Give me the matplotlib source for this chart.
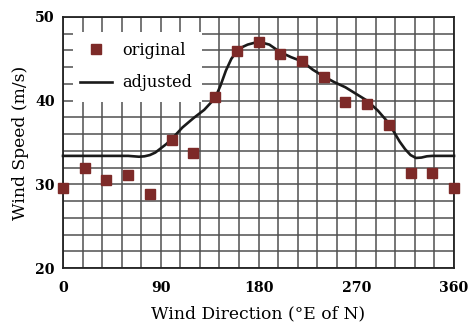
import matplotlib
matplotlib.use("Agg")
import matplotlib.pyplot as plt
from matplotlib.patches import Rectangle
from matplotlib.lines import Line2D

# data
orig_dir = [0, 20, 40, 60, 80, 100, 120, 140, 160, 180, 200, 220, 240, 260, 280, 300, 320, 340, 360]
orig_speed = [29.6, 32.0, 30.5, 31.1, 28.9, 35.3, 33.7, 40.4, 45.9, 47.0, 45.6, 44.7, 42.8, 39.8, 39.6, 37.1, 31.4, 31.3, 29.6]

adj_dir = [0, 10, 20, 30, 40, 50, 60, 65, 70, 75, 80, 85, 90, 95, 100, 110, 120, 130, 140, 145, 150, 155,
           160, 165, 170, 180, 190, 200, 210, 220, 230, 240, 250, 260, 270, 280, 290, 300, 305, 310, 315,
           320, 325, 330, 335, 340, 350, 360]
adj_speed = [33.4, 33.4, 33.4, 33.4, 33.4, 33.4, 33.4, 33.35, 33.3, 33.35, 33.5, 33.8, 34.3, 34.8, 35.4, 36.8, 37.9, 38.9,
             40.3, 41.8, 43.6, 45.0, 45.9, 46.4, 46.7, 47.05, 46.7, 45.8, 45.2, 44.7, 43.7, 42.9, 42.2, 41.6,
             40.8, 40.0, 38.8, 37.3, 36.2, 35.1, 34.2, 33.5, 33.15, 33.2, 33.35, 33.4, 33.4, 33.4]

x_ticks = [0, 90, 180, 270, 360]
y_ticks = [20, 30, 40, 50]

plt.rcParams['font.family'] = ['DejaVu Serif']

fig = plt.figure(figsize=(4.68, 3.22), dpi=100)
ax = fig.add_axes([63/468, 1-268/322, (454-63)/468, (268-17)/322])

ax.set_xlim(0, 360)
ax.set_ylim(20, 50)
ax.set_xticks(x_ticks, labels=[str(t) for t in x_ticks])
ax.set_yticks(y_ticks, labels=[str(t) for t in y_ticks])
ax.set_xticks(range(0, 361, 18), minor=True)
ax.set_yticks(range(20, 51, 2), minor=True)
ax.grid(True, which='both', color='#505050', linewidth=1.1)
ax.tick_params(which='both', length=0)
ax.tick_params(which='major', labelsize=10.2, pad=9)
ax.tick_params(axis='y', which='major', pad=6)
for lab in ax.get_xticklabels() + ax.get_yticklabels():
    lab.set_fontweight('bold')
for s in ax.spines.values():
    s.set_color('#222222')
    s.set_linewidth(1.3)

ax.plot(adj_dir, adj_speed, color='#1a1a1a', linewidth=1.9, zorder=3, clip_on=False)
ax.plot(orig_dir, orig_speed, linestyle='none', marker='s', markersize=7.8,
        color='#7d2a28', zorder=4, clip_on=False)

ax.add_patch(Rectangle(((73-63)/391, (268-102)/251), (202-73)/391, (102-32)/251,
                       transform=ax.transAxes, facecolor='white', edgecolor='none', zorder=2.5))

handles = [Line2D([], [], linestyle='none', marker='s', markersize=7.8, color='#7d2a28'),
           Line2D([], [], color='#1a1a1a', linewidth=1.9)]
leg = ax.legend(handles, ['original', 'adjusted'], loc='upper left',
                bbox_to_anchor=((80-63)/391, (268-42)/251), frameon=False, fontsize=11.6,
                borderpad=0, borderaxespad=0, handlelength=2.0, handletextpad=0.6,
                labelspacing=0.95)
leg.set_zorder(5)

ax.set_xlabel('Wind Direction (°E of N)', fontsize=12.3, labelpad=8)
ax.set_ylabel('Wind Speed (m/s)', fontsize=12.3, labelpad=4)

fig.savefig('out.png', dpi=100)
